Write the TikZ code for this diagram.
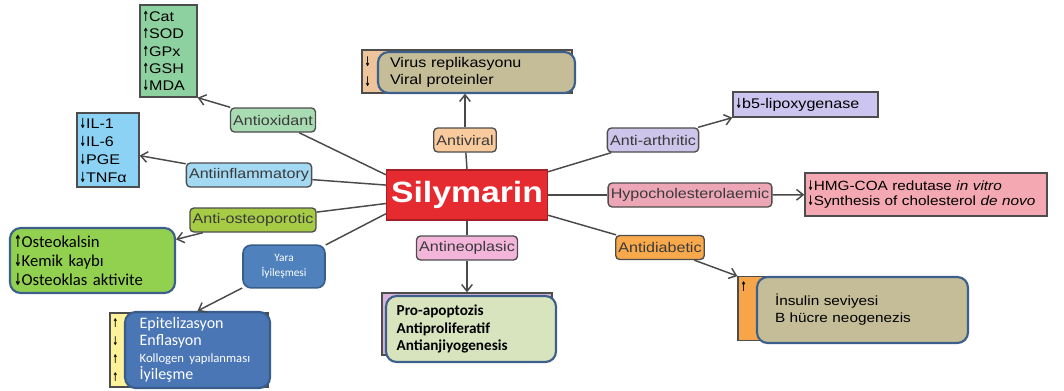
\documentclass[tikz,border=0pt]{standalone}
\usepackage{graphicx}
\usepackage{fontspec}
\setmainfont{Liberation Sans}[FakeStretch=1.15]
\newfontfamily\calib{Carlito}
\newfontfamily\arrfont{DejaVu Sans}
\usetikzlibrary{arrows.meta, positioning}

\definecolor{silyred}{HTML}{E52A30}
\definecolor{silyedge}{HTML}{A52025}
\definecolor{aoxgreen}{HTML}{A9DCB3}
\definecolor{catgreen}{HTML}{8ED1A0}
\definecolor{ainfblue}{HTML}{A3D9F2}
\definecolor{ilblue}{HTML}{8CD2F4}
\definecolor{aostgreen}{HTML}{A6CB45}
\definecolor{ostgreen}{HTML}{92D050}
\definecolor{avirpeach}{HTML}{F9CA9C}
\definecolor{virtan}{HTML}{EDC49B}
\definecolor{khaki}{HTML}{C4BD97}
\definecolor{aartlav}{HTML}{CDC5EA}
\definecolor{b5lav}{HTML}{CCC5EF}
\definecolor{hypopink}{HTML}{EDA6B6}
\definecolor{hmgpink}{HTML}{F3A8B2}
\definecolor{adiaorange}{HTML}{F8A94B}
\definecolor{insorange}{HTML}{F6A648}
\definecolor{aneopink}{HTML}{F3B5DA}
\definecolor{prolilac}{HTML}{D8B4DD}
\definecolor{progreen}{HTML}{D7E4BD}
\definecolor{epiyellow}{HTML}{FFF29A}
\definecolor{epiblue}{HTML}{4A76B6}
\definecolor{frontline}{HTML}{3C5F8C}
\definecolor{yarablue}{HTML}{4F81BD}
\definecolor{yaraedge}{HTML}{385D8A}
\definecolor{lblline}{HTML}{4D4D4D}
\definecolor{lbltext}{HTML}{3A3A3A}
\definecolor{linkgray}{HTML}{4A4A4A}

\newcommand\incr{\scalebox{0.55}[1]{\arrfont\bfseries ↑}}
\newcommand\decr{\scalebox{0.55}[1]{\arrfont\bfseries ↓}}

\begin{document}
\begin{tikzpicture}[
    x=0.75pt, y=-0.75pt,
    >={Straight Barb[length=5pt,width=8pt]},
    lbl/.style={draw=lblline, line width=1pt, rounded corners=3pt,
                minimum height=18pt, inner xsep=2pt, text=lbltext,
                font=\fontsize{10.5}{12}\selectfont},
    effbox/.style={draw=lblline, line width=1pt, align=left, inner sep=2pt},
    backbox/.style={draw=lblline, line width=1pt, align=left, inner xsep=2pt},
    front/.style={draw=frontline, line width=1.6pt, rounded corners=8pt,
                  align=left},
    link/.style={draw=linkgray, line width=1.1pt}
  ]
  \useasboundingbox (0,0) rectangle (1064,390);

  % Centre
  \node[fill=silyred, draw=silyedge, line width=1pt, minimum width=120pt,
        minimum height=37.5pt, text=white,
        font=\fontsize{22}{24}\selectfont\bfseries] (sily) at (467,195) {Silymarin};

  % Labels round the centre
  \node[lbl, fill=aoxgreen]   (aox)  at (273,120)   {Antioxidant};
  \node[lbl, fill=ainfblue]   (ainf) at (249,175)   {Antiinflammatory};
  \node[lbl, fill=aostgreen]  (aost) at (253,220)   {Anti-osteoporotic};
  \node[lbl, fill=avirpeach]  (avir) at (465,140)   {Antiviral};
  \node[lbl, fill=aartlav]    (aart) at (653,140)   {Anti-arthritic};
  \node[lbl, fill=hypopink]   (hypo) at (690,195)   {Hypocholesterolaemic};
  \node[lbl, fill=adiaorange] (adia) at (660,247.5) {Antidiabetic};
  \node[lbl, fill=aneopink]   (aneo) at (467,248)   {Antineoplasic};
  \node[fill=yarablue, draw=yaraedge, line width=1.2pt, rounded corners=6pt,
        minimum width=61.5pt, minimum height=32pt, text=white, align=center,
        font=\calib\fontsize{8.5}{11}\selectfont] (yara) at (284,266.5)
    {Yara\\İyileşmesi};

  % Effect boxes
  \node[effbox, fill=catgreen, text width=38.75pt, minimum height=69pt,
        font=\fontsize{10.5}{13}\selectfont] (cat) at (168.5,51)
    {\incr Cat\\\incr SOD\\\incr GPx\\\incr GSH\\\decr MDA};
  \node[effbox, fill=ilblue, text width=42.5pt, minimum height=55.5pt,
        font=\fontsize{10.5}{13.5}\selectfont] (il) at (108,150)
    {\decr IL-1\\\decr IL-6\\\decr PGE\\\decr TNFα};
  \node[effbox, fill=b5lav, text width=104.75pt, minimum height=18.75pt,
        font=\fontsize{10.5}{12}\selectfont] (b5) at (805.5,104.5)
    {\decr b5-lipoxygenase};
  \node[effbox, fill=hmgpink, text width=177.5pt, minimum height=32.25pt,
        font=\fontsize{10}{11.5}\selectfont] (hmg) at (926,194.5)
    {\decr HMG-COA redutase \textit{in vitro}\\
     \decr Synthesis of cholesterol \textit{de novo}};
  \node[front, fill=ostgreen, text width=117.75pt, inner xsep=3pt,
        minimum height=48.75pt, font=\calib\fontsize{12.5}{14.25}\selectfont]
    (ost) at (92.5,260.5)
    {\incr Osteokalsin\\\decr Kemik kaybı\\\decr Osteoklas aktivite};

  % Wound healing
  \node[backbox, fill=epiyellow, text width=114.5pt, minimum height=55.5pt,
        font=\fontsize{9}{13.3}\selectfont] (epiback) at (189,350)
    {\incr\\\decr\\\incr\\\incr};
  \node[front, fill=epiblue, draw=yaraedge, text width=86.75pt, inner xsep=11pt,
        minimum height=57pt, text=white, font=\calib\fontsize{12}{12.75}\selectfont]
    (epi) at (197.5,350)
    {Epitelizasyon\\Enflasyon\\{\fontsize{9.5}{11}\selectfont Kollogen yapılanması}\\İyileşme};

  % Virus
  \node[backbox, fill=virtan, text width=153.5pt, minimum height=32.25pt,
        font=\fontsize{10}{15}\selectfont] (virback) at (467,71.5) {\decr\\\decr};
  \node[front, fill=khaki, text width=129.75pt, inner xsep=9pt,
        minimum height=30.75pt, font=\fontsize{10.5}{12.75}\selectfont]
    (vir) at (476.5,72.5) {Virus replikasyonu\\Viral proteinler};

  % Insulin
  \node[backbox, fill=insorange, text width=42.5pt, text height=8pt,
        text depth=33pt, font=\fontsize{10}{10}\selectfont] (insback) at (769,308.5) {\incr};
  \node[front, fill=khaki, text width=131.25pt, inner xsep=13.5pt,
        minimum height=49.5pt, font=\fontsize{10}{12.75}\selectfont]
    (ins) at (862.5,310) {İnsulin seviyesi\\B hücre neogenezis};

  % Neoplasia
  \node[backbox, fill=prolilac, minimum width=127.5pt, minimum height=46.5pt]
    (proback) at (467,324) {};
  \node[front, fill=progreen, text width=111.5pt, inner xsep=8pt,
        minimum height=49.5pt, font=\calib\bfseries\fontsize{11.4}{13}\selectfont]
    (pro) at (471,329) {Pro-apoptozis\\Antiproliferatif\\Antianjiyogenesis};

  % Spokes
  \foreach \a/\n in {166/aox, 173/ainf, 186/aost, 193/yara, 90/avir,
                     16/aart, 0/hypo, -14/adia, -90/aneo}
    \draw[link] (sily.\a) -- (\n);

  % Arrows to effects
  \draw[link, ->] (aox) -- (cat.south east);
  \draw[link, ->] (ainf) -- (il);
  \draw[link, ->] (aost) -- (ost);
  \draw[link, ->] (yara) -- (epi.north);
  \draw[link, ->] (avir) -- (avir |- virback.south);
  \draw[link, ->] (aart) -- (b5.south west);
  \draw[link, ->] (hypo) -- (hmg);
  \draw[link, ->] (adia) -- (insback.north west);
  \draw[link, ->] (aneo) -- (aneo |- proback.north);
\end{tikzpicture}
\end{document}
